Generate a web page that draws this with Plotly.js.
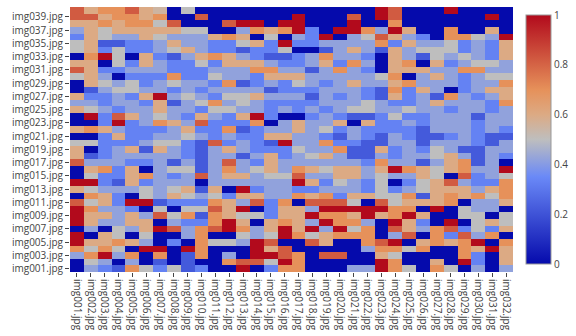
<!DOCTYPE html>
<html>
<head>
<meta charset="utf-8">
<script src="https://cdn.plot.ly/plotly-3.0.1.min.js"></script>
<style>html,body{margin:0;padding:0;background:#fff;}#chart{width:576px;height:336px;}</style>
</head>
<body>
<div id="chart"></div>
<script>
const xLabels = ['img001.jpg','img002.jpg','img003.jpg','img004.jpg','img005.jpg','img006.jpg','img007.jpg','img008.jpg',
  'img009.jpg','img010.jpg','img011.jpg','img012.jpg','img013.jpg','img014.jpg','img015.jpg','img016.jpg',
  'img017.jpg','img018.jpg','img019.jpg','img020.jpg','img021.jpg','img022.jpg','img023.jpg','img024.jpg',
  'img025.jpg','img026.jpg','img027.jpg','img028.jpg','img029.jpg','img030.jpg','img031.jpg','img032.jpg'];
const yLabels = ['img001.jpg','img002.jpg','img003.jpg','img004.jpg','img005.jpg','img006.jpg','img007.jpg','img008.jpg',
  'img009.jpg','img010.jpg','img011.jpg','img012.jpg','img013.jpg','img014.jpg','img015.jpg','img016.jpg',
  'img017.jpg','img018.jpg','img019.jpg','img020.jpg','img021.jpg','img022.jpg','img023.jpg','img024.jpg',
  'img025.jpg','img026.jpg','img027.jpg','img028.jpg','img029.jpg','img030.jpg','img031.jpg','img032.jpg',
  'img033.jpg','img034.jpg','img035.jpg','img036.jpg','img037.jpg','img038.jpg','img039.jpg','img040.jpg'];
const yTickLabels = ['img001.jpg','img003.jpg','img005.jpg','img007.jpg','img009.jpg','img011.jpg','img013.jpg',
  'img015.jpg','img017.jpg','img019.jpg','img021.jpg','img023.jpg','img025.jpg','img027.jpg','img029.jpg',
  'img031.jpg','img033.jpg','img035.jpg','img037.jpg','img039.jpg'];
// similarity values, one row per y image (img001 at bottom ... img040 at top), one column per x image
const zValues = [
[0,.42,.33,.22,.7,.5,.33,.5,.22,.33,0,0,1,0,.33,.7,.7,0,0,0,.42,.42,1,.7,.5,0,.7,.5,0,.42,0,.42],
[0,.5,.42,0,.42,0,.22,0,.22,0,0,.7,.82,.82,.5,1,.7,0,0,0,0,0,1,.7,0,0,.6,0,1,.33,0,.6],
[.42,.7,1,.42,.7,0,.7,0,.22,.7,0,.42,0,1,1,.82,.7,0,.82,.82,0,0,.6,.5,0,0,0,0,.7,.33,0,.6],
[.7,.5,.7,.5,0,1,1,0,1,.7,0,0,0,1,.6,.82,0,0,0,0,0,.42,.7,.7,.5,.7,0,0,.7,.6,1,.6],
[1,.6,.6,.7,.6,.42,0,.33,0,.7,.5,.5,.42,1,.82,0,0,.82,.6,0,0,.7,.82,1,0,.6,.7,.6,.7,1,0,.7],
[1,0,.6,.5,0,.5,0,0,.42,.7,0,0,.5,.42,.5,1,.7,.5,.6,.7,.7,.7,0,.42,.82,0,.7,.33,.82,.42,.7,0],
[0,.42,0,.5,.42,.6,1,.82,.42,.7,.82,1,.7,.42,.6,1,.6,1,.42,1,.5,.7,0,.82,.6,.42,.7,.82,.33,.5,.33,.6],
[1,.6,.42,.42,.6,.6,0,.42,.33,.33,.7,1,.6,0,.6,.7,.6,.42,1,.7,.7,.42,0,1,.6,.33,0,1,0,.5,.6,.5],
[1,.6,.6,.42,.6,.42,.82,.5,.7,.22,.7,.6,.5,.5,.33,.6,.6,1,.7,.7,.6,1,.6,.7,1,.6,0,0,.5,.5,0,.5],
[1,.7,.42,.42,.33,0,.5,0,.5,.5,.82,.6,1,0,.33,.6,.6,.42,1,1,1,1,1,.7,.7,0,1,0,.5,.42,.42,0],
[.82,.5,.6,.33,1,1,.22,.33,.33,.33,.7,.6,.42,.82,.33,.7,0,.82,.82,.82,.5,0,.82,.5,.6,.6,.6,.7,0,.42,.42,.6],
[0,.7,.6,.33,0,.5,.42,.6,.5,.42,.5,.33,.6,.6,.42,.42,.7,.6,.7,.33,.6,.6,.5,.5,.7,.22,.6,.7,.6,.7,.5,.7],
[.6,.5,.42,.42,.42,.5,.42,.5,.6,.22,.6,0,1,.33,.42,.42,.33,.33,.42,.42,.42,.33,.5,.33,.42,.5,.6,.6,.6,.42,.6,.7],
[1,1,.33,.22,.6,.33,.42,.42,.42,0,.42,.42,.42,.42,.42,.42,1,.6,.33,.5,.42,.33,.5,0,.33,.5,.6,.82,.42,.33,.33,.7],
[0,.5,.33,.33,.6,.7,.42,.33,.42,.82,.42,.6,.6,.42,.5,.5,.82,.42,.42,.6,.6,.42,.5,.42,.42,.6,.5,0,.82,.33,.42,.5],
[0,.6,.7,.33,.6,0,.42,.5,.5,.22,.42,.7,.42,.5,.6,.42,.7,.6,.5,.6,.6,.42,.6,1,.7,.6,.5,.6,.7,.42,.42,1],
[.82,.42,.42,.42,.33,.33,.42,.22,.42,.22,.42,.82,.42,.33,.6,.42,.42,.42,.42,.42,.42,.33,.7,.42,.42,.22,.42,.6,.7,.22,.42,0],
[.6,.22,.33,.42,.42,.42,.42,.42,.33,.22,.42,.42,.22,.42,.6,.33,.42,.5,.6,.42,.22,.22,.42,.33,.42,.42,.5,.6,.42,.22,.42,.33],
[.6,0,.33,.42,.6,.22,.6,.42,.33,.22,.42,.6,.42,.33,.33,.33,.5,.42,.42,.7,.22,.22,.6,.33,.42,.33,.5,.42,.22,.22,.42,.42],
[.5,.5,.33,.33,.33,.42,.5,.5,.33,.22,.82,.33,.42,.33,.22,1,.42,.42,.7,.33,.33,.22,.22,.42,.42,.22,.42,.42,.42,.33,.22,.42],
[0,0,.33,.6,.33,.33,.42,.42,.5,.42,.33,.42,.33,.33,.6,.6,.42,.42,.33,.22,.42,.33,.22,.42,.33,.22,.22,.33,.42,.33,.22,.22],
[.6,.7,.6,.42,.33,.33,.33,.42,.6,.33,.33,.7,.22,.33,.42,.42,.6,.42,.5,.33,.42,.33,.33,.33,.33,.22,.42,.42,.42,.33,.42,.33],
[0,0,.33,1,.33,.42,.7,.6,.42,.82,.33,.33,.33,.7,0,.42,.6,.42,.42,.6,0,.6,.33,.33,.42,.33,.42,.42,.42,.33,.42,.42],
[0,1,.33,.82,.6,.42,.5,.42,.33,.6,.42,.33,.6,1,.33,0,0,.33,.42,.33,.22,.22,.33,.5,.33,.33,.42,.42,.42,.22,.42,.42],
[.6,.5,.42,.33,.42,.42,.6,.42,.42,.33,.5,.5,.42,.42,.33,.42,.33,.42,.33,.42,.5,.5,.42,.42,.5,.42,.42,.33,.42,.42,.33,.42],
[.42,.42,.33,.42,.42,.33,.6,.22,.42,.5,.7,.42,.5,.42,.33,.33,.33,.33,.42,.42,.42,.5,.42,.33,.33,.42,.6,.42,.42,.42,.33,.7],
[.6,.33,.33,.42,.33,.6,1,.42,.5,.42,.33,.5,.5,.6,.42,.42,.42,.22,.42,.33,.42,.33,.22,.6,.33,.42,.22,.7,.42,.33,.42,.6],
[0,.22,.42,.5,.5,.42,.42,.33,.42,.33,.42,.42,.42,.42,.22,.33,.33,.33,.42,.42,.42,.33,.22,.7,.33,.6,.42,0,.33,.42,.6,.6],
[0,.6,.5,.42,.5,.33,.42,.5,.42,.42,.33,.7,.22,.33,.42,.33,.5,.42,.33,.42,.6,.42,.42,.6,.7,.42,.42,.42,.33,.42,.42,.7],
[.5,.6,.42,0,.33,.33,.33,.7,.33,.33,.5,.42,.42,.33,.6,.6,.6,.42,.42,.42,.42,.42,.5,.7,0,.42,.6,.42,.33,.42,.5,.5],
[.82,.6,.33,.33,.42,.42,.42,.33,.33,.33,.42,.42,.42,.7,.7,.42,.42,.22,.42,.7,.42,.33,0,.6,.6,.6,.42,.42,.7,.7,.42,.42],
[.6,.6,0,.5,.33,.6,.42,.33,.33,.5,.33,.6,.6,.6,.42,.33,.33,.42,.6,.33,.7,.42,0,.6,.7,0,.6,.33,.42,.5,.5,.42],
[0,.7,1,.5,0,.6,.33,.22,.42,.6,.7,.6,.42,.33,.22,.22,.33,.42,.7,.42,.42,.33,0,.6,.42,.22,.5,.42,.5,.42,.33,.6],
[.5,.6,.33,.5,.33,.33,.42,.5,.6,.42,.33,.33,.22,.33,.33,.5,0,0,.22,.42,.6,.42,.22,.6,.42,.5,.5,.5,.33,.42,.33,.6],
[.5,.6,.22,.22,.33,.33,.42,.6,.42,.42,.33,.33,.5,.6,.33,1,.33,.33,.42,.42,.42,.42,.7,.33,.6,.42,.42,.5,.33,.42,.33,.6],
[.33,.6,.5,.42,.42,.6,.5,.42,.42,.42,.6,.7,.6,0,.5,0,.42,.33,1,0,.42,.5,.82,.6,.42,.33,0,.7,.7,.5,.42,1],
[.42,.6,.5,.6,.6,.6,.6,.6,.5,.5,0,0,.42,.7,.6,.7,1,.33,0,1,1,.7,.42,1,.6,0,0,.7,0,0,.6,0],
[.6,.6,.7,.6,.7,.7,.5,.82,0,0,0,.82,1,1,0,1,1,0,0,0,1,0,0,.7,0,0,0,0,0,0,0,0],
[.82,.82,.6,.7,.7,.6,.7,0,0,.82,0,0,0,0,0,0,1,0,0,0,.82,0,1,.82,0,0,0,0,0,0,1,0],
[.82,.6,.7,.7,.82,.6,.55,0,.5,0,0,0,0,0,0,0,0,0,0,0,0,0,1,.82,0,0,0,1,0,0,0,0]
];

const trace = {
  type: 'heatmap',
  x: xLabels,
  y: yLabels,
  z: zValues,
  zmin: 0,
  zmax: 1,
  colorscale: 'RdBu',
  reversescale: false,
  colorbar: {
    thickness: 25,
    len: 1,
    ypad: 8,
    x: 1.025,
    xanchor: 'left',
    xpad: 2,
    outlinecolor: '#999',
    outlinewidth: 1,
    tickvals: [0, 0.2, 0.4, 0.6, 0.8, 1],
    ticktext: ['0', '0.2', '0.4', '0.6', '0.8', '1'],
    ticklabelpad: 1,
    tickfont: {family: 'Open Sans, sans-serif', size: 10, color: '#444'}
  }
};

const layout = {
  width: 576,
  height: 336,
  margin: {l: 70, r: 63, t: 7, b: 64},
  paper_bgcolor: '#fff',
  plot_bgcolor: '#fff',
  font: {family: 'Open Sans, sans-serif', size: 10, color: '#444'},
  xaxis: {
    type: 'category',
    tickangle: 90,
    ticks: 'outside',
    ticklen: 4,
    tickcolor: '#444',
    showgrid: false,
    zeroline: false,
    automargin: false,
    tickfont: {size: 10}
  },
  yaxis: {
    type: 'category',
    ticks: 'outside',
    ticklen: 4,
    tickcolor: '#444',
    showgrid: false,
    zeroline: false,
    automargin: false,
    tickmode: 'array',
    tickvals: yTickLabels,
    ticktext: yTickLabels,
    tickfont: {size: 10}
  }
};

Plotly.newPlot('chart', [trace], layout, {displayModeBar: false, staticPlot: true});
</script>
</body>
</html>
